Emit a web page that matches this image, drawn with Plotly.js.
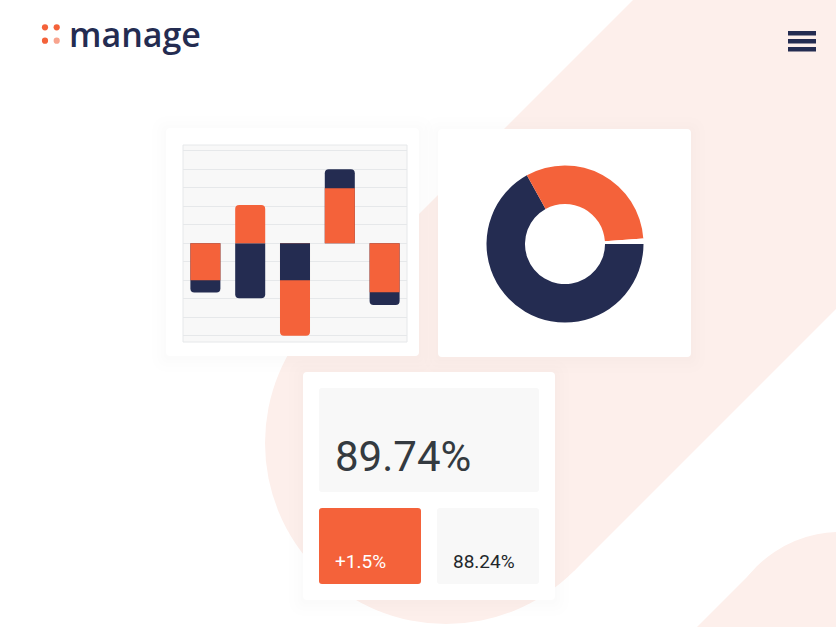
<!DOCTYPE html>
<html>
<head>
<meta charset="utf-8">
<script src="https://cdn.plot.ly/plotly-3.0.1.min.js"></script>
<style>
  html, body { margin: 0; padding: 0; background: #ffffff; }
  #chart { width: 836px; height: 627px; }
</style>
</head>
<body>
<div id="chart"></div>
<script>
// ---- data ----
const categories = ["A", "B", "C", "D", "E"];
const navyValues = [-2.67, -2.97, -2.0, 4.0, -3.34];
const orangeValues = [-2.0, 2.07, -5.0, 2.97, -2.65];

const donutLabels = ["Navy", "Orange", "Gap"];
const donutValues = [67, 32, 1.1];

const brandText = "manage";
const mainStat = "89.74%";
const changeStat = "+1.5%";
const secondStat = "88.24%";

// ---- styling ----
const NAVY = "#242C51";
const ORANGE = "#F4623A";
const PINK = "#FDEFEB";
const W = 836, H = 627;

function X(x) { return x / W; }
function Y(y) { return 1 - y / H; }
function pt(x, y) { return X(x).toFixed(5) + "," + Y(y).toFixed(5); }
function poly(points) {
  return "M" + points.map(p => pt(p[0], p[1])).join(" L") + " Z";
}
function rrect(x0, y0, x1, y1, r) {
  return "M" + pt(x0 + r, y0) + " L" + pt(x1 - r, y0) + " Q" + pt(x1, y0) + " " + pt(x1, y0 + r) +
    " L" + pt(x1, y1 - r) + " Q" + pt(x1, y1) + " " + pt(x1 - r, y1) +
    " L" + pt(x0 + r, y1) + " Q" + pt(x0, y1) + " " + pt(x0, y1 - r) +
    " L" + pt(x0, y0 + r) + " Q" + pt(x0, y0) + " " + pt(x0 + r, y0) + " Z";
}
function pathShape(path, fill) {
  return { type: "path", xref: "paper", yref: "paper", path: path, fillcolor: fill,
    line: { width: 0 }, layer: "below" };
}
function circleShape(cx, cy, r, fill) {
  return { type: "circle", xref: "paper", yref: "paper",
    x0: X(cx - r), x1: X(cx + r), y0: Y(cy + r), y1: Y(cy - r),
    fillcolor: fill, line: { width: 0 }, layer: "below" };
}
function card(x0, y0, x1, y1, r, fill) {
  const s = [];
  [14, 9, 5, 2].forEach(d => {
    s.push(pathShape(rrect(x0 - d, y0 - d + 2, x1 + d, y1 + d + 2, r + d), "rgba(90,70,70,0.007)"));
  });
  s.push(pathShape(rrect(x0, y0, x1, y1, r), fill));
  return s;
}

const shapes = [];
// background band with rounded end
shapes.push(circleShape(446, 443, 181, PINK));
shapes.push(pathShape(poly([[318, 315], [834, -201], [1346, -201], [574, 571]]), PINK));
// bottom-right band
shapes.push(circleShape(840, 650, 118, PINK));
shapes.push(pathShape(poly([[757, 567], [617, 707], [1000, 707], [1000, 567]]), PINK));

// cards
shapes.push(...card(166, 128, 419, 356, 4, "#ffffff"));
shapes.push(...card(438, 129, 691, 357, 4, "#ffffff"));
shapes.push(...card(303, 372, 555, 600, 4, "#ffffff"));

// bar chart panel
shapes.push({ type: "rect", xref: "paper", yref: "paper", x0: X(183), x1: X(407), y0: Y(342), y1: Y(145),
  fillcolor: "#F8F8F8", line: { color: "#E6E8EA", width: 1 }, layer: "below" });

// stat boxes
shapes.push(pathShape(rrect(319, 388, 539, 492, 3), "#F8F8F8"));
shapes.push(pathShape(rrect(319, 508, 421, 584, 3), ORANGE));
shapes.push(pathShape(rrect(437, 508, 539, 584, 3), "#F8F8F8"));

// logo dots
shapes.push(circleShape(45, 27.3, 3.1, ORANGE));
shapes.push(circleShape(56.7, 27.3, 3.1, ORANGE));
shapes.push(circleShape(45, 40.7, 3.1, ORANGE));
shapes.push(circleShape(56.7, 40.7, 3.1, "#F8A48E"));

// hamburger
[[31, 35.5], [39, 43.5], [47, 51.5]].forEach(b => {
  shapes.push({ type: "rect", xref: "paper", yref: "paper", x0: X(788), x1: X(816), y0: Y(b[1]), y1: Y(b[0]),
    fillcolor: NAVY, line: { width: 0 }, layer: "above" });
});

// ---- bars: longer bar behind, shorter in front ----
const backVals = [], frontVals = [], backCols = [], frontCols = [];
categories.forEach((c, i) => {
  const n = navyValues[i], o = orangeValues[i];
  if (Math.abs(n) >= Math.abs(o)) {
    backVals.push(n); backCols.push(NAVY); frontVals.push(o); frontCols.push(ORANGE);
  } else {
    backVals.push(o); backCols.push(ORANGE); frontVals.push(n); frontCols.push(NAVY);
  }
});

const traces = [
  { type: "bar", x: categories, y: backVals, width: 0.67, xaxis: "x", yaxis: "y",
    marker: { color: backCols, cornerradius: 4, line: { width: 0 } }, hoverinfo: "none" },
  { type: "bar", x: categories, y: frontVals, width: 0.67, xaxis: "x", yaxis: "y",
    marker: { color: frontCols, cornerradius: 4, line: { width: 0 } }, hoverinfo: "none" },
  { type: "pie", labels: donutLabels, values: donutValues, hole: 0.51, sort: false,
    direction: "clockwise", rotation: 90, textinfo: "none", hoverinfo: "none",
    marker: { colors: [NAVY, ORANGE, "#ffffff"], line: { width: 0 } },
    domain: { x: [X(565 - 78.5), X(565 + 78.5)], y: [Y(244 + 78.5), Y(244 - 78.5)] } }
];

const annotations = [
  { text: brandText, xref: "paper", yref: "paper", x: X(67), y: Y(34), xanchor: "left", yanchor: "middle",
    showarrow: false, font: { family: "Open Sans", size: 34, weight: 600, color: NAVY } },
  { text: mainStat, xref: "paper", yref: "paper", x: X(333), y: Y(456), xanchor: "left", yanchor: "middle",
    showarrow: false, font: { family: "Roboto", size: 42, color: "#343A40" } },
  { text: changeStat, xref: "paper", yref: "paper", x: X(333), y: Y(561), xanchor: "left", yanchor: "middle",
    showarrow: false, font: { family: "Roboto", size: 19, color: "#ffffff" } },
  { text: secondStat, xref: "paper", yref: "paper", x: X(451), y: Y(561), xanchor: "left", yanchor: "middle",
    showarrow: false, font: { family: "Roboto", size: 19, color: "#23272B" } }
];

const layout = {
  width: W, height: H,
  margin: { l: 0, r: 0, t: 0, b: 0 },
  paper_bgcolor: "#ffffff",
  plot_bgcolor: "rgba(0,0,0,0)",
  showlegend: false,
  barmode: "overlay",
  xaxis: { type: "category", domain: [X(183), X(407)], range: [-0.5, 4.5], showticklabels: false, showgrid: false,
    zeroline: false, showline: false, ticks: "", fixedrange: true },
  yaxis: { domain: [Y(342), Y(145)], range: [-5.34, 5.31], showticklabels: false, showgrid: true,
    gridcolor: "#E6E8EA", gridwidth: 1, dtick: 1, tick0: 0, zeroline: false, showline: false, ticks: "", fixedrange: true },
  shapes: shapes,
  annotations: annotations
};

Plotly.newPlot("chart", traces, layout, { staticPlot: true, displayModeBar: false });
</script>
</body>
</html>
